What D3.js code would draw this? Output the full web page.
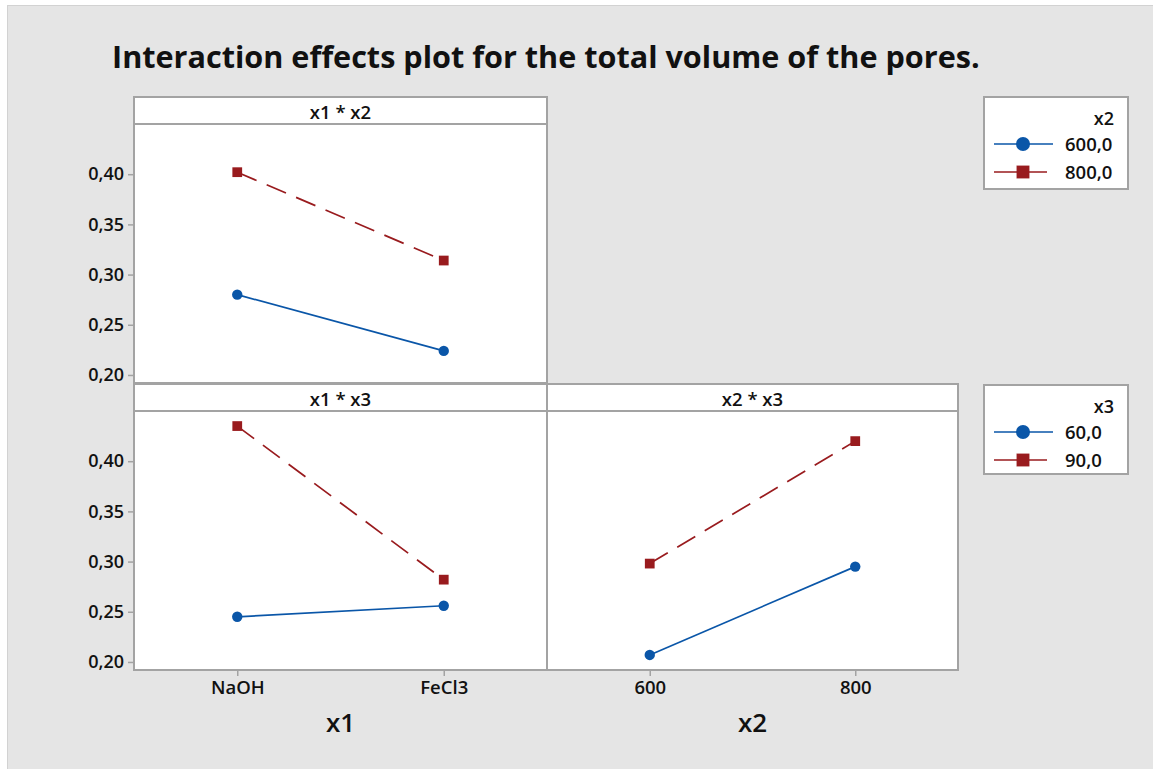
<!DOCTYPE html>
<html>
<head>
<meta charset="utf-8">
<script src="https://cdn.jsdelivr.net/npm/d3@7"></script>
<style>
  body { margin: 0; background: #fff; }
  svg text { font-family: "Open Sans", "Noto Sans", sans-serif; fill: #111; }
</style>
</head>
<body>
<svg id="chart" width="1153" height="769"></svg>
<script>
// --- data ---
const x1Levels = ["NaOH", "FeCl3"];
const x2Levels = ["600", "800"];
const x2Legend = ["600,0", "800,0"];
const x3Legend = ["60,0", "90,0"];

// x1 * x2 (trace = x2)
const x1x2_600 = [0.280, 0.224];
const x1x2_800 = [0.402, 0.314];
// x1 * x3 (trace = x3)
const x1x3_60 = [0.245, 0.256];
const x1x3_90 = [0.435, 0.282];
// x2 * x3 (trace = x3)
const x2x3_60 = [0.207, 0.295];
const x2x3_90 = [0.298, 0.420];

const yTicks = [0.20, 0.25, 0.30, 0.35, 0.40];

const svg = d3.select("#chart");
const W = 1153, H = 769;

const BLUE = "#0a56a8";
const RED = "#991b1e";
const BORDER = "#a3a3a3";

// background frame
svg.append("rect").attr("x", 7.5).attr("y", 5.5).attr("width", W).attr("height", H)
  .attr("fill", "#e5e5e5").attr("stroke", "#d2d2d2");

// title
svg.append("text")
  .attr("x", 112).attr("y", 68)
  .attr("font-size", 30.6).attr("font-weight", 700)
  .text("Interaction effects plot for the total volume of the pores.");

// panel grid geometry
const colX = [134, 547, 958];
const rowTop = [97, 384];
const headerH = 27, plotH = 259;

const y0 = d3.scaleLinear().domain([0.192, 0.450]).range([plotH, 0]);

const panels = [
  { row: 0, col: 0, header: "x1 * x2", levels: x1Levels, series: [x1x2_600, x1x2_800] },
  { row: 1, col: 0, header: "x1 * x3", levels: x1Levels, series: [x1x3_60, x1x3_90] },
  { row: 1, col: 1, header: "x2 * x3", levels: x2Levels, series: [x2x3_60, x2x3_90] }
];

const styles = [
  { color: BLUE, dash: null, shape: d3.symbolCircle, size: 85 },
  { color: RED, dash: "21,11", shape: d3.symbolSquare, size: 95 }
];

panels.forEach(p => {
  const left = colX[p.col], right = colX[p.col + 1];
  const top = rowTop[p.row];
  const g = svg.append("g").attr("transform", `translate(${left},${top})`);
  const w = right - left;

  // header strip
  g.append("rect").attr("width", w).attr("height", headerH)
    .attr("fill", "#fff").attr("stroke", BORDER).attr("stroke-width", 2);
  g.append("text").attr("x", w / 2).attr("y", headerH - 5)
    .attr("text-anchor", "middle").attr("font-size", 18.5).attr("font-weight", 600)
    .text(p.header);

  const pg = g.append("g").attr("transform", `translate(0,${headerH})`);
  pg.append("rect").attr("width", w).attr("height", plotH)
    .attr("fill", "#fff").attr("stroke", BORDER).attr("stroke-width", 2);

  const x = d3.scalePoint().domain(p.levels).range([0, w]).padding(0.5);

  // y axis on left column
  if (p.col === 0) {
    const ax = pg.append("g").call(d3.axisLeft(y0).tickValues(yTicks).tickSize(6)
      .tickFormat(d => d3.format(".2f")(d).replace(".", ",")));
    ax.attr("font-size", null).attr("font-family", null);
    ax.select(".domain").remove();
    ax.selectAll(".tick line").attr("stroke", BORDER).attr("stroke-width", 1.5);
    ax.selectAll(".tick text").attr("font-size", 18).attr("font-weight", 600)
      .attr("fill", "#111").attr("x", -10);
  }
  // x axis on bottom row
  if (p.row === 1) {
    const ax = pg.append("g").attr("transform", `translate(0,${plotH})`)
      .call(d3.axisBottom(x).tickSize(6).tickPadding(5));
    ax.attr("font-size", null).attr("font-family", null);
    ax.select(".domain").remove();
    ax.selectAll(".tick line").attr("stroke", BORDER).attr("stroke-width", 1.5);
    ax.selectAll(".tick text").attr("font-size", 18.5).attr("font-weight", 600)
      .attr("fill", "#111");
    pg.append("text").attr("x", w / 2).attr("y", plotH + 62)
      .attr("text-anchor", "middle").attr("font-size", 26).attr("font-weight", 600)
      .text(p.col === 0 ? "x1" : "x2");
  }

  const line = d3.line().x((d, i) => x(p.levels[i])).y(d => y0(d));
  p.series.forEach((vals, si) => {
    const st = styles[si];
    pg.append("path").attr("d", line(vals)).attr("fill", "none")
      .attr("stroke", st.color).attr("stroke-width", 1.7)
      .attr("stroke-dasharray", st.dash);
    pg.selectAll(null).data(vals).join("path")
      .attr("transform", (d, i) => `translate(${x(p.levels[i])},${y0(d)})`)
      .attr("d", d3.symbol().type(st.shape).size(st.size))
      .attr("fill", st.color);
  });
});

// legends
function legend(top, title, labels, height) {
  const g = svg.append("g").attr("transform", `translate(984,${top})`);
  g.append("rect").attr("width", 144).attr("height", height)
    .attr("fill", "#fff").attr("stroke", BORDER).attr("stroke-width", 2);
  g.append("text").attr("x", 130).attr("y", 28).attr("text-anchor", "end")
    .attr("font-size", 18).attr("font-weight", 600).text(title);
  labels.forEach((lab, i) => {
    const st = styles[i];
    const cy = 47 + i * 28;
    g.append("line").attr("x1", 10).attr("x2", i === 0 ? 69 : 63).attr("y1", cy).attr("y2", cy)
      .attr("stroke", st.color).attr("stroke-width", 1.7);
    g.append("path").attr("transform", `translate(39,${cy})`)
      .attr("d", d3.symbol().type(st.shape).size(i === 0 ? 155 : 165))
      .attr("fill", st.color);
    g.append("text").attr("x", 81).attr("y", cy + 7)
      .attr("font-size", 18.5).attr("font-weight", 600).text(lab);
  });
}
legend(97, "x2", x2Legend, 92);
legend(385, "x3", x3Legend, 89);
</script>
</body>
</html>
